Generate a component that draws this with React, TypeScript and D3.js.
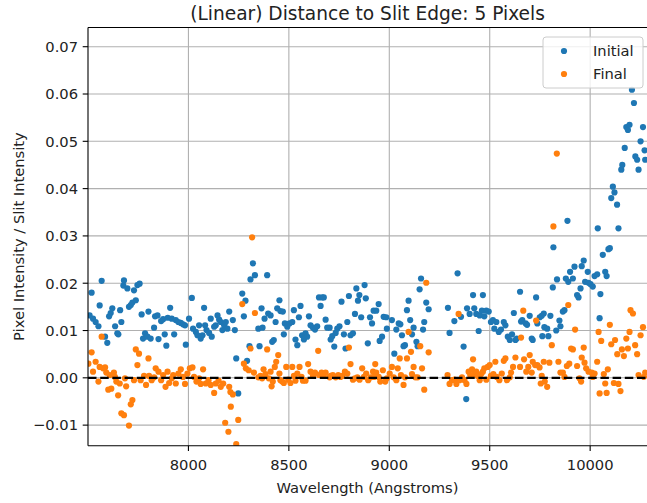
import React from "react";
import * as d3 from "d3";

// ---- Data ----
const initialWave = [7508,7518,7525,7538,7552,7558,7568,7585,7596,7605,7613,7621,7635,7646,7651,7660,7666,7676,7679,7696,7704,7713,7721,7729,7738,7746,7757,7767,7774,7784,7796,7801,7812,7829,7834,7846,7851,7864,7874,7882,7890,7897,7909,7917,7929,7937,7950,7962,7973,7983,7987,8003,8017,8023,8037,8045,8053,8061,8070,8078,8083,8090,8103,8111,8116,8128,8136,8145,8153,8161,8169,8178,8186,8194,8203,
8221,8231,8238,8248,8268,8276,8284,8292,8304,8309,8321,8331,8348,8354,8364,8369,8379,8392,8397,8409,8417,8425,8434,8442,8453,8458,8470,8475,8480,8492,8503,8517,8525,8533,8542,8550,8558,8566,8575,8583,8591,8600,8608,8620,8630,8641,8650,8658,8666,8674,8683,8691,8703,8708,8716,8726,8733,8741,8752,8762,8774,8782,8791,8799,8807,8819,8829,8836,8844,8851,8860,8877,8883,8893,8904,
8914,8922,8935,8947,8952,8964,8972,8985,8988,9013,9025,9035,9047,9055,9063,9071,9078,9088,9096,9104,9113,9121,9135,9141,9151,9158,9168,9174,9184,9196,9292,9300,9324,9340,9357,9370,9383,9387,9400,9417,9423,9433,9445,9450,9461,9466,9473,9483,9495,9506,9516,9523,9533,9545,9556,9570,9578,9590,9600,9611,9620,9628,
9634,9651,9656,9662,9679,9686,9699,9709,9714,9731,9737,9749,9759,9762,9769,9772,9786,9792,9802,9814,9817,9831,9835,9847,9852,9864,9872,9879,9887,9891,9900,9914,9922,9935,9942,9952,9958,9968,9975,9988,9992,10002,10013,10022,10035,10038,10047,10051,10063,10075,10082,10091,10098,10105,10113,10121,10134,10141,10155,10160,10172,10180,10188,10196,10208,10218,10225,10234,10241,10251,10263,10271,10274];
const initialValue = [0.0132,0.0180,0.0125,0.0118,0.0109,0.0153,0.0205,0.0087,0.0074,0.0130,0.0137,0.0147,0.0109,0.0094,0.0092,0.0143,0.0118,0.0195,0.0206,0.0189,0.0150,0.0154,0.0159,0.0185,0.0164,0.0196,0.0199,0.0134,0.0083,0.0094,0.0087,0.0140,0.0083,0.0106,0.0130,0.0132,0.0082,0.0120,0.0124,0.0092,0.0068,0.0127,0.0148,0.0125,0.0092,0.0122,0.0118,0.0116,0.0113,0.0111,0.0070,0.0125,0.0169,0.0104,0.0097,0.0090,0.0111,0.0083,0.0090,0.0148,0.0111,0.0101,0.0095,0.0125,0.0087,0.0108,0.0111,0.0132,0.0123,0.0118,0.0101,0.0111,0.0118,0.0104,0.0140,
0.0122,0.0101,0.0041,-0.0033,0.0178,0.0130,0.0163,0.0036,0.0067,0.0208,0.0242,0.0217,0.0104,0.0067,0.0147,0.0106,0.0125,0.0217,0.0136,0.0132,0.0076,0.0080,0.0118,0.0147,0.0164,0.0141,0.0140,0.0092,0.0115,0.0108,0.0115,0.0118,0.0143,0.0081,0.0069,0.0128,0.0152,0.0090,0.0081,0.0094,0.0087,0.0130,0.0111,0.0106,0.0102,0.0109,0.0170,0.0152,0.0170,0.0170,0.0123,0.0106,0.0106,0.0081,0.0088,0.0066,0.0095,0.0104,0.0109,0.0161,0.0092,0.0062,0.0118,0.0173,0.0090,0.0094,0.0135,0.0189,0.0163,0.0175,0.0128,0.0196,0.0168,0.0073,0.0128,
0.0115,0.0142,0.0142,0.0156,0.0078,0.0087,0.0129,0.0128,0.0104,0.0122,0.0051,0.0102,0.0115,0.0113,0.0090,0.0067,0.0069,0.0143,0.0163,0.0122,0.0092,0.0106,0.0076,0.0067,0.0187,0.0210,0.0102,0.0118,0.0159,0.0145,0.0148,0.0095,0.0120,0.0221,0.0129,0.0066,-0.0045,0.0147,0.0135,0.0175,0.0147,0.0135,0.0099,0.0132,0.0142,0.0175,0.0130,0.0142,0.0140,0.0118,0.0122,0.0104,0.0118,0.0097,0.0102,0.0118,0.0111,0.0087,0.0080,0.0092,0.0137,0.0080,
0.0083,0.0182,0.0119,0.0122,0.0115,0.0112,0.0131,0.0083,0.0080,0.0170,0.0115,0.0128,0.0131,0.0088,0.0136,0.0107,0.0104,0.0088,0.0131,0.0191,0.0276,0.0100,0.0208,0.0121,0.0109,0.0140,0.0143,0.0210,0.0332,0.0203,0.0224,0.0210,0.0235,0.0175,0.0170,0.0189,0.0236,0.0248,0.0203,0.0224,0.0201,0.0198,0.0193,0.0215,0.0219,0.0316,0.0126,0.0177,0.0260,0.0224,0.0215,0.0272,0.0274,0.0380,0.0404,0.0392,0.0366,0.0316,0.0440,0.0450,0.0486,0.0530,0.0524,0.0535,0.0609,0.0581,0.0468,0.0461,0.0440,0.0500,0.0530,0.0481,0.0461];

const finalWave = [7502,7518,7525,7538,7552,7558,7568,7575,7585,7591,7601,7608,7616,7629,7634,7641,7650,7658,7666,7679,7684,7690,7704,7713,7721,7729,7738,7746,7754,7762,7779,7789,7801,7804,7817,7829,7837,7851,7864,7874,7886,7896,7904,7917,7924,7937,7950,7962,7973,7983,7995,8007,8020,8028,8040,8053,8061,8073,8086,8100,8111,8128,8136,8150,8161,8173,8183,8199,8211,
8203,8209,8221,8248,8238,8268,8276,8286,8300,8309,8317,8326,8331,8348,8359,8367,8374,8384,8392,8400,8409,8414,8420,8430,8437,8447,8453,8458,8467,8475,8487,8497,8508,8517,8525,8533,8542,8553,8563,8570,8583,8596,8608,8620,8630,8646,8650,8663,8674,8683,8703,8708,8719,8733,8746,8757,8766,8779,8791,8799,8807,8819,8829,8841,8852,8865,8874,8885,8895,8907,8919,8924,
8930,8935,8947,8955,8968,8980,8988,9002,9013,9022,9035,9042,9052,9058,9071,9078,9088,9096,9108,9113,9121,9130,9141,9154,9163,9174,9184,9196,9290,9300,9312,9324,9334,9345,9350,9362,9374,9384,9395,9403,9412,9417,9423,9433,9440,9450,9457,9466,9473,9483,9490,9500,9506,9518,9528,9535,9548,9560,9570,9578,9586,9600,9606,9616,9628,
9651,9656,9667,9671,9682,9692,9699,9709,9714,9726,9731,9737,9748,9754,9759,9769,9774,9786,9797,9809,9817,9834,9842,9852,9864,9872,9884,9891,9896,9905,9914,9925,9935,9947,9955,9958,9968,9972,9980,9992,10008,10013,10022,10035,10042,10047,10055,10068,10075,10082,10088,10098,10105,10118,10124,10135,10141,10151,10158,10168,10180,10188,10196,10201,10213,10224,10234,10241,10251,10263,10268,10274];
const finalValue = [0.0030,0.0054,0.0013,0.0034,-0.0008,0.0023,0.0087,0.0020,0.0022,0.0011,-0.0025,0.0006,-0.0023,0.0011,0.0002,-0.0008,-0.0037,-0.0012,-0.0075,-0.0079,-0.0001,-0.0018,-0.0101,-0.0056,-0.0047,-0.0005,0.0060,0.0027,0.0051,-0.0005,0.0004,-0.0015,0.0041,0.0004,-0.0005,0.0001,0.0020,0.0013,-0.0005,0.0006,-0.0019,0.0013,-0.0011,-0.0001,0.0006,-0.0012,0.0009,0.0018,0.0002,-0.0013,0.0009,0.0020,0.0022,0.0002,-0.0008,-0.0001,-0.0013,0.0018,-0.0012,-0.0005,-0.0015,-0.0032,-0.0012,-0.0006,-0.0019,-0.0012,-0.0095,-0.0114,-0.0061,
-0.0019,-0.0030,-0.0035,-0.0089,-0.0140,0.0156,0.0030,0.0020,0.0016,0.0062,0.0297,0.0011,0.0137,0.0001,0.0004,-0.0001,0.0018,0.0008,0.0060,-0.0001,0.0013,-0.0018,-0.0008,0.0023,0.0034,0.0048,0.0009,-0.0005,-0.0008,-0.0011,0.0023,-0.0004,-0.0011,0.0023,0.0004,-0.0006,0.0009,0.0023,0.0002,-0.0006,-0.0006,0.0029,0.0013,0.0004,0.0011,0.0057,0.0006,0.0011,0.0004,0.0011,0.0001,0.0004,0.0006,0.0001,0.0006,0.0002,0.0004,0.0013,0.0009,0.0064,0.0029,-0.0004,-0.0001,0.0001,-0.0004,0.0020,0.0002,0.0009,-0.0005,0.0001,0.0013,0.0002,
0.0029,0.0011,0.0002,-0.0008,0.0016,-0.0008,-0.0001,0.0009,0.0023,0.0001,-0.0005,0.0020,0.0041,0.0006,-0.0015,0.0001,0.0041,0.0097,0.0055,0.0008,0.0023,0.0001,0.0001,0.0067,0.0020,-0.0025,0.0201,0.0054,0.0006,-0.0013,-0.0005,-0.0004,-0.0013,0.0135,-0.0005,0.0001,-0.0005,-0.0013,0.0013,0.0006,0.0018,0.0039,0.0008,0.0013,0.0004,-0.0005,0.0008,0.0013,0.0020,-0.0004,0.0023,0.0027,0.0004,0.0008,0.0034,0.0002,-0.0005,0.0009,0.0036,0.0041,-0.0005,0.0001,0.0011,0.0023,0.0043,
0.0023,0.0085,0.0142,0.0039,0.0013,0.0023,0.0048,0.0011,0.0034,0.0027,0.0121,0.0027,0.0022,-0.0012,0.0004,0.0034,-0.0008,-0.0019,0.0032,0.0069,0.0320,0.0474,0.0034,0.0011,0.0011,0.0002,0.0025,0.0154,0.0030,0.0062,0.0060,0.0102,0.0025,-0.0001,-0.0008,0.0043,0.0064,0.0032,0.0020,0.0013,0.0011,0.0002,0.0009,0.0034,0.0097,-0.0033,0.0078,0.0008,-0.0012,-0.0032,0.0018,0.0112,0.0071,-0.0011,0.0080,0.0050,-0.0013,-0.0028,0.0060,0.0046,0.0083,0.0062,0.0097,0.0143,0.0136,0.0069,0.0050,0.0006,0.0090,0.0107,0.0002,0.0011];

const xTicks = [8000, 8500, 9000, 9500, 10000];
const yTicks = [-0.01, 0, 0.01, 0.02, 0.03, 0.04, 0.05, 0.06, 0.07];
const seriesNames = ["Initial", "Final"];
const seriesColors = ["#1f77b4", "#ff7f0e"];
const titleText = "(Linear) Distance to Slit Edge: 5 Pixels";
const xLabel = "Wavelength (Angstroms)";
const yLabel = "Pixel Intensity / Slit Intensity";

const W = 647, H = 503;
const L = 88, R = 647, T = 27.5, B = 445.7;
const FONT = "DejaVu Sans, sans-serif";

export default function App() {
  const x = d3.scaleLinear().domain([7500, 10283]).range([L, R]);
  const y = d3.scaleLinear().domain([-0.01435, 0.07406]).range([B, T]);
  const fmt = d3.format(".2f");
  const series = [
    initialWave.map((w, i) => [w, initialValue[i]]),
    finalWave.map((w, i) => [w, finalValue[i]]),
  ];
  const r = 3.1;
  return (
    <svg width={W} height={H} style={{ position: "absolute", left: 0, top: 0, background: "#fff" }} fontFamily={FONT}>
      <defs>
        <clipPath id="plot">
          <rect x={L} y={T} width={R - L} height={B - T} />
        </clipPath>
      </defs>
      <rect x={0} y={0} width={W} height={H} fill="#fff" />
      {/* grid */}
      <g stroke="#b0b0b0" strokeWidth={1.1}>
        {xTicks.map((t) => (
          <line key={"gx" + t} x1={x(t)} x2={x(t)} y1={T} y2={B} />
        ))}
        {yTicks.map((t) => (
          <line key={"gy" + t} x1={L} x2={R} y1={y(t)} y2={y(t)} />
        ))}
      </g>
      {/* points */}
      <g clipPath="url(#plot)">
        {series.map((pts, si) => (
          <g key={si} fill={seriesColors[si]}>
            {pts.map(([w, v], i) => (
              <circle key={i} cx={x(w)} cy={y(v)} r={r} />
            ))}
          </g>
        ))}
        <line x1={L} x2={R} y1={y(0)} y2={y(0)} stroke="#000" strokeWidth={2.2} strokeDasharray="8.5,3.7" />
      </g>
      {/* spines */}
      <g stroke="#000" strokeWidth={1.1} fill="none">
        <line x1={L} x2={L} y1={T} y2={B} />
        <line x1={L} x2={R} y1={T} y2={T} />
        <line x1={L} x2={R} y1={B} y2={B} />
      </g>
      {/* x ticks */}
      {xTicks.map((t) => (
        <g key={"xt" + t}>
          <line x1={x(t)} x2={x(t)} y1={B} y2={B + 5.3} stroke="#000" strokeWidth={1.1} />
          <text x={x(t)} y={470} textAnchor="middle" fontSize={14.7} fill="#222">{t}</text>
        </g>
      ))}
      {/* y ticks */}
      {yTicks.map((t) => (
        <g key={"yt" + t}>
          <line x1={L - 5.3} x2={L} y1={y(t)} y2={y(t)} stroke="#000" strokeWidth={1.1} />
          <text x={78} y={y(t)} dy="0.36em" textAnchor="end" fontSize={14.7} fill="#222">{fmt(t)}</text>
        </g>
      ))}
      {/* labels */}
      <text x={(L + R) / 2} y={20} textAnchor="middle" fontSize={18.6} fill="#222">{titleText}</text>
      <text x={(L + R) / 2} y={493} textAnchor="middle" fontSize={14.7} fill="#222">{xLabel}</text>
      <text transform={`translate(24,${(T + B) / 2}) rotate(-90)`} textAnchor="middle" fontSize={14.7} fill="#222">{yLabel}</text>
      {/* legend */}
      <g>
        <rect x={543} y={37} width={100} height={51} rx={3} fill="#fff" fillOpacity={0.8} stroke="#cccccc" strokeWidth={1} />
        {seriesNames.map((n, i) => (
          <g key={n}>
            <circle cx={564} cy={51 + i * 23} r={r} fill={seriesColors[i]} />
            <text x={593} y={51 + i * 23} dy="0.36em" fontSize={14.7} fill="#222">{n}</text>
          </g>
        ))}
      </g>
    </svg>
  );
}
